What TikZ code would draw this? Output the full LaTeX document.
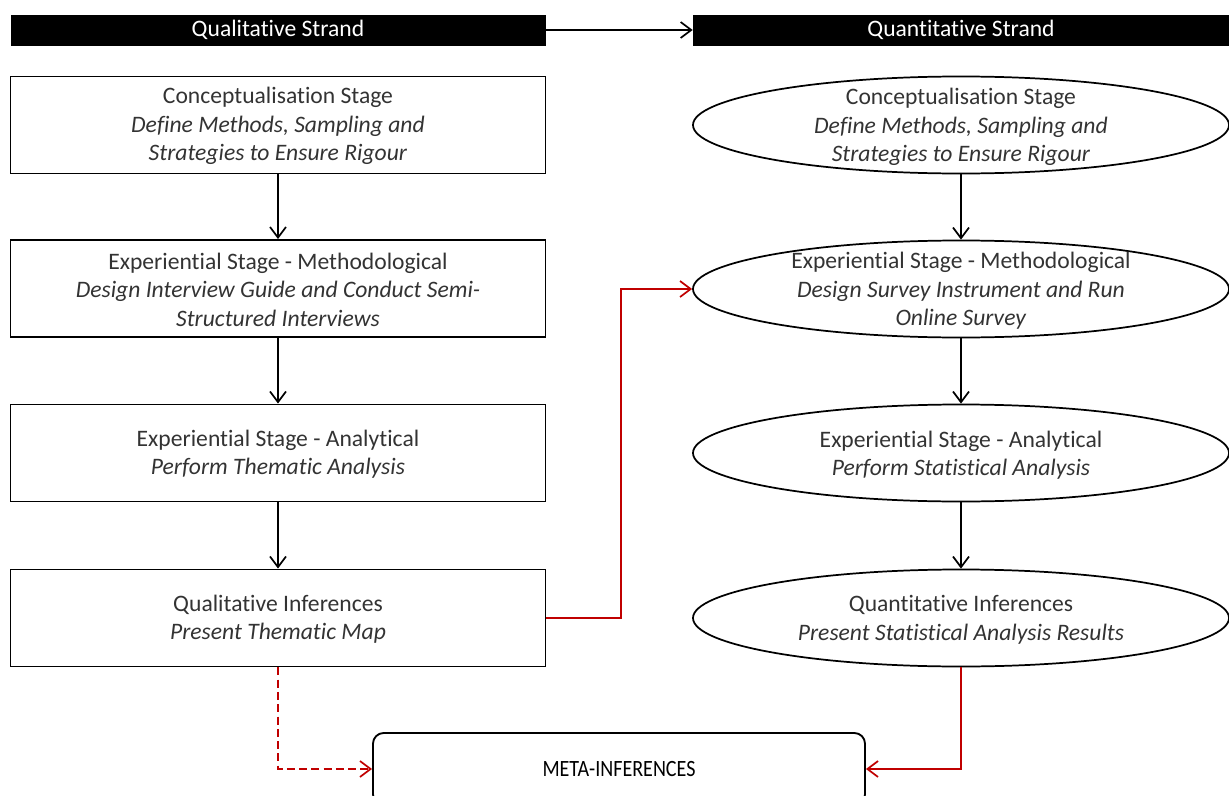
\documentclass[tikz,border=0pt]{standalone}
\usepackage{fontspec}
\usepackage{graphicx}
\setmainfont{Carlito}[Ligatures=NoCommon]
\usetikzlibrary{shapes.geometric,arrows.meta}
\definecolor{txt}{HTML}{333333}
\definecolor{linkred}{HTML}{C00000}
\newcommand{\stagefont}{\fontsize{17.7}{21.4}\selectfont}
\begin{document}
\begin{tikzpicture}[x=0.75pt,y=-0.75pt,
  head/.style={fill=black, text=white, font=\stagefont, inner sep=0pt,
    minimum height=23.25pt},
  box/.style={draw, line width=1.4pt, minimum width=401.25pt,
    minimum height=72.75pt, inner sep=0pt, align=center, text=txt, font=\stagefont},
  oval/.style={draw, ellipse, line width=1.3pt, minimum width=402pt,
    minimum height=72.75pt, inner sep=0pt},
  ovaltext/.style={label={[align=center, text=txt, font=\stagefont, yshift=-1.5pt]center:#1}},
  flow/.style={line width=1.3pt, -{Straight Barb[length=8pt,width=12pt,line width=1.3pt]}},
  redflow/.style={flow, draw=linkred, line width=1.5pt},
  meta/.style={draw, line width=1.4pt, rounded corners=8pt, minimum width=369pt,
    minimum height=54pt, inner sep=0pt, text=black}
]
\useasboundingbox (0,0) rectangle (1229,796);

% strand headers
\node[head, minimum width=401.25pt] (hl) at (278,30) {Qualitative Strand};
\node[head, minimum width=402pt] (hr) at (961,30) {Quantitative Strand};
\draw[flow] (hl.east) -- (hr.west);

% qualitative strand
\node[box] (b1) at (278,125) {\rule{0pt}{14pt}Conceptualisation Stage\\ \textit{Define Methods, Sampling and}\\ \textit{Strategies to Ensure Rigour}};
\node[box] (b2) at (278,288.5) {\rule{0pt}{14pt}Experiential Stage - Methodological\\ \textit{Design Interview Guide and Conduct Semi-}\\ \textit{Structured Interviews}};
\node[box] (b3) at (278,453) {\rule{0pt}{14pt}Experiential Stage - Analytical\\ \textit{Perform Thematic Analysis}};
\node[box] (b4) at (278,618) {\rule{0pt}{14pt}Qualitative Inferences\\ \textit{Present Thematic Map}};

% quantitative strand
\node[oval, ovaltext={Conceptualisation Stage\\ \textit{Define Methods, Sampling and}\\ \textit{Strategies to Ensure Rigour}}] (e1) at (961,125) {};
\node[oval, ovaltext={Experiential Stage - Methodological\\ \textit{Design Survey Instrument and Run}\\ \textit{Online Survey}}] (e2) at (961,289) {};
\node[oval, ovaltext={Experiential Stage - Analytical\\ \textit{Perform Statistical Analysis}}] (e3) at (961,453) {};
\node[oval, ovaltext={Quantitative Inferences\\ \textit{Present Statistical Analysis Results}}] (e4) at (961,618) {};

% merged result
\node[meta] (m) at (619,769) {\scalebox{0.86}[1]{\fontsize{17.5}{20}\selectfont META-INFERENCES}};

% stage flow
\draw[flow] (b1.south) -- (b2.north);
\draw[flow] (b2.south) -- (b3.north);
\draw[flow] (b3.south) -- (b4.north);
\draw[flow] (e1.south) -- (e2.north);
\draw[flow] (e2.south) -- (e3.north);
\draw[flow] (e3.south) -- (e4.north);

% links between strands
\coordinate (bend) at (621,618);
\draw[redflow] (b4.east) -- (bend) |- (e2.west);
\draw[redflow, dash pattern=on 6pt off 3.2pt] (b4.south) |- (m.west);
\draw[redflow] (e4.south) |- (m.east);
\end{tikzpicture}
\end{document}
